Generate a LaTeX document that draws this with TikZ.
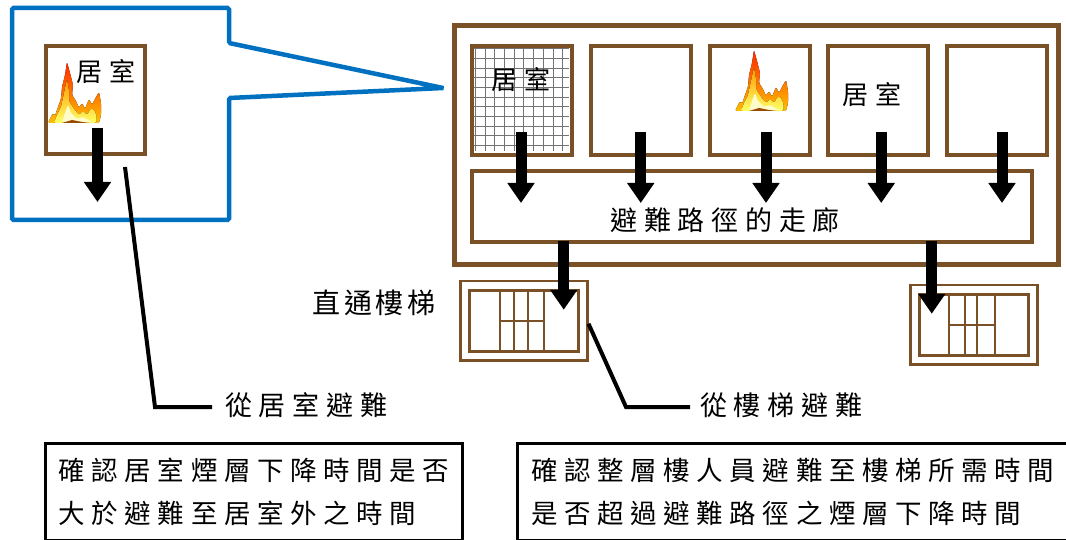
\documentclass[tikz,border=0pt]{standalone}
\usepackage{fontspec}
\usetikzlibrary{arrows.meta,positioning}
\newfontfamily\cjk[LetterSpace=25]{Noto Sans CJK TC}
\newfontfamily\cjktight[LetterSpace=12]{Noto Sans CJK TC}
\definecolor{wallbrown}{RGB}{122,80,38}
\definecolor{calloutblue}{RGB}{0,112,192}
\tikzset{
	pics/flame/.style={code={
		\fill[rounded corners=1.5pt, top color=red!70!orange, bottom color=orange!50!yellow]
			(0,0) -- (3,-6) -- (5,-10) -- (7,-7) -- (10,-16) -- (13,-24) -- (14,-36) -- (17,-48)
			-- (19,-61) -- (22,-50) -- (25,-38) -- (24,-28) -- (28,-22) -- (31,-15) -- (34,-20)
			-- (37,-14) -- (41,-24) -- (44,-18) -- (47,-24) -- (51,-31) -- (53,-20) -- (53,-8)
			-- (51,0) -- cycle;
		\fill[rounded corners=1.5pt, top color=orange!80!yellow, bottom color=yellow!60]
			(6,0) -- (9,-8) -- (13,-16) -- (16,-30) -- (19,-44) -- (21,-32) -- (21,-22) -- (26,-14)
			-- (31,-8) -- (35,-12) -- (39,-8) -- (43,-15) -- (47,-12) -- (49,-4) -- (48,0) -- cycle;
		\fill[rounded corners=1pt, yellow!20]
			(14,-1) -- (17,-10) -- (20,-18) -- (23,-10) -- (29,-4) -- (35,-6) -- (42,-2) -- (44,-1) -- cycle;
		\fill[orange!60!black] (14,0) -- (24,-3) -- (34,-1) -- (42,0) -- cycle;
	}}
}
\begin{document}
\begin{tikzpicture}[x=1pt,y=-1pt,
	every node/.append style={inner sep=0pt},
	wall/.style={draw=wallbrown, line width=4pt},
	room/.style={wall, minimum width=100pt, minimum height=109pt, anchor=north west},
	roomtext/.style={font=\cjk\fontsize{26}{26}\selectfont},
	evac/.style={line width=11pt, -{Triangle[width=26pt,length=20pt]}},
	stairframe/.style={draw=wallbrown, line width=2.5pt, minimum width=127pt, minimum height=79pt, anchor=north west},
	stairwell/.style={draw=wallbrown, line width=3pt, minimum width=109pt, minimum height=61pt},
	tread/.style={draw=wallbrown, line width=2pt},
	leader/.style={line width=4pt},
	tag/.style={anchor=west, font=\cjk\fontsize{27}{27}\selectfont},
	note/.style={draw, line width=3pt, align=left, inner xsep=13.5pt, minimum height=97pt, anchor=north west,
		font=\cjk\fontsize{26.5}{43}\selectfont}]
	\useasboundingbox (0,0) rectangle (1066,540);

	% zoomed single room
	\draw[calloutblue, line width=4.5pt, rounded corners=1.5pt]
		(12,8) -- (229,8) -- (229,43) -- (443,88) -- (229,98) -- (229,220) -- (12,220) -- cycle;
	\node[wall, minimum width=99pt, minimum height=108pt, anchor=north west] (lroom) at (44,44) {};
	\pic at (48,123) {flame};
	\node[roomtext] (lroomlbl) at (106,72) {居室};
	\draw[evac] ([xshift=2pt,yshift=28pt]lroom.south) -- ([xshift=2pt,yshift=-46pt]lroom.south);

	% floor plan
	\node[draw=wallbrown, line width=5pt, minimum width=604pt, minimum height=239pt, anchor=north west] (bldg) at (451.5,23.5) {};
	\draw[black!55, line width=0.7pt, step=9.7pt] (472,46) grid (569,151);
	\node[room] (r1) at (470,44) {};
	\node[room, right=14.75pt of r1] (r2) {};
	\node[room, right=14.75pt of r2] (r3) {};
	\node[room, right=14.75pt of r3] (r4) {};
	\node[room, right=14.75pt of r4] (r5) {};
	\node[wall, minimum width=560pt, minimum height=71pt, anchor=north west] (corr) at (470,169) {};
	\node[roomtext] (r1lbl) at (521,80) {居室};
	\node[roomtext] (r4lbl) at (872,95) {居室};
	\pic at (735,111) {flame};
	\node[font=\cjk\fontsize{27}{27}\selectfont] (corrlbl) at (725,220) {避難路徑的走廊};

	\draw[evac] ([xshift=-1pt,yshift=25pt]r1.south) -- ([xshift=-1pt,yshift=-34pt]r1.south |- corr.north);
	\draw[evac] ([yshift=25pt]r2.south) -- ([yshift=-34pt]r2.south |- corr.north);
	\draw[evac] ([xshift=6.5pt,yshift=25pt]r3.south) -- ([xshift=6.5pt,yshift=-34pt]r3.south |- corr.north);
	\draw[evac] ([xshift=3pt,yshift=25pt]r4.south) -- ([xshift=3pt,yshift=-34pt]r4.south |- corr.north);
	\draw[evac] ([xshift=5pt,yshift=25pt]r5.south) -- ([xshift=5pt,yshift=-34pt]r5.south |- corr.north);

	% stairs
	\node[font=\cjktight\fontsize{28}{28}\selectfont] (stairlbl) at (374,303) {直通樓梯};
	\node[stairframe] (s1) at (459,280) {};
	\node[stairwell] (s1in) at (s1.center) {};
	\foreach \dx in {32,46,60,76}
		\draw[tread] ([xshift=\dx pt]s1in.north west) -- ([xshift=\dx pt]s1in.south west);
	\draw[tread] ([xshift=32pt]s1in.west) -- ([xshift=76pt]s1in.west);
	\node[stairframe] (s2) at (909,284) {};
	\node[stairwell] (s2in) at (s2.center) {};
	\foreach \dx in {31,47,59,77}
		\draw[tread] ([xshift=\dx pt]s2in.north west) -- ([xshift=\dx pt]s2in.south west);
	\draw[tread] ([xshift=31pt]s2in.west) -- ([xshift=77pt]s2in.west);
	\draw[evac] ([xshift=-16pt,yshift=3pt]s1in.east |- corr.south) -- ([xshift=-16pt,yshift=-21pt]s1in.north east);
	\draw[evac] ([xshift=14pt,yshift=3pt]s2in.west |- corr.south) -- ([xshift=14pt,yshift=-21pt]s2in.north west);

	% callouts and notes
	\node[tag] (lbl1) at (225,405) {從居室避難};
	\node[tag] (lbl2) at (700,405) {從樓梯避難};
	\coordinate (lead1) at (125,167);
	\draw[leader] (lead1) -- (155,407) -- ([xshift=-13pt,yshift=-2pt]lbl1.west);
	\draw[leader] ([yshift=-3pt]s1.east) -- (626,407) -- ([xshift=-10pt,yshift=-2pt]lbl2.west);
	\node[note] (note1) at (43.5,441.5) {確認居室煙層下降時間是否\\大於避難至居室外之時間};
	\node[note] (note2) at (516,441.5) {確認整層樓人員避難至樓梯所需時間\\是否超過避難路徑之煙層下降時間};
\end{tikzpicture}
\end{document}
